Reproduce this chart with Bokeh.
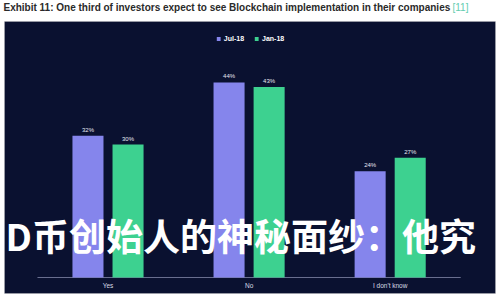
from bokeh.plotting import figure
from bokeh.models import ColumnDataSource, Range1d, Label, BoxAnnotation, Legend, LegendItem
from bokeh.core.properties import value
from bokeh.embed import file_html
from bokeh.resources import INLINE

# ---- data ----
categories = ["Yes", "No", "I don't know"]
jul18 = [32, 44, 24]
jan18 = [30, 43, 27]
series_names = ["Jul-18", "Jan-18"]
title_text = "Exhibit 11: One third of investors expect to see Blockchain implementation in their companies"
title_ref = "[11]"
overlay_text = "D币创始人的神秘面纱：他究"

# ---- style ----
W, H = 500, 300
PANEL = "#0a1130"
C_JUL = "#8585ec"
C_JAN = "#3dd190"
OFF = 0.142
BW = 0.22

xs = [i + 0.5 for i in range(len(categories))]
src = ColumnDataSource(dict(
    cat=categories,
    x=xs,
    x_jul=[x - OFF for x in xs],
    x_jan=[x + OFF for x in xs],
    jul=jul18,
    jan=jan18,
    jul_lbl=[f"{v}%" for v in jul18],
    jan_lbl=[f"{v}%" for v in jan18],
    zero=[0] * len(categories),
))

p = figure(width=W, height=H, output_backend="svg", toolbar_location=None,
           x_range=Range1d(-0.262, 3.282), y_range=Range1d(-5.19, 62.5),
           x_axis_location=None, y_axis_location=None, min_border=0,
           background_fill_color="white", border_fill_color="white",
           outline_line_color=None)
p.grid.visible = False

panel = BoxAnnotation(left=4, right=495, bottom=7, top=279,
                      left_units="screen", right_units="screen",
                      bottom_units="screen", top_units="screen",
                      fill_color=PANEL, fill_alpha=1.0,
                      line_color="#c8c8c8", line_width=1, level="underlay")
p.add_layout(panel)

p.segment(x0=[0], x1=[len(categories)], y0=[0], y1=[0], line_color="#6b7090", line_width=1)

r1 = p.vbar(x="x_jul", top="jul", width=BW, source=src, fill_color=C_JUL, line_color=None)
r2 = p.vbar(x="x_jan", top="jan", width=BW, source=src, fill_color=C_JAN, line_color=None)

for xcol, ycol, lcol in (("x_jul", "jul", "jul_lbl"), ("x_jan", "jan", "jan_lbl")):
    p.text(x=xcol, y=ycol, text=lcol, source=src, text_align="center", text_baseline="bottom",
           y_offset=-3, text_font_size="6px", text_color="#e6e8f0",
           text_font=value("Liberation Sans"))

p.text(x="x", y="zero", text="cat", source=src, text_align="center", text_baseline="top",
       y_offset=5, text_font_size="6.5px", text_color="#d8dbe6",
       text_font=value("Liberation Sans"))

legend = Legend(items=[LegendItem(label=series_names[0], renderers=[r1]),
                       LegendItem(label=series_names[1], renderers=[r2])],
                orientation="horizontal", location="top_center", margin=34, padding=0,
                spacing=10, glyph_width=5, glyph_height=5, label_height=8,
                label_standoff=3, label_text_font_size="7px", label_text_font_style="bold",
                label_text_color="white", label_text_font="Liberation Sans",
                background_fill_alpha=0, border_line_alpha=0)
p.add_layout(legend, "center")

p.add_layout(Label(x=3, y=293, x_units="screen", y_units="screen", text=title_text,
                   text_font="Liberation Sans", text_font_size="10px", text_font_style="bold",
                   text_color="#2a2a2a", text_baseline="middle"))
p.add_layout(Label(x=452, y=293, x_units="screen", y_units="screen", text=title_ref,
                   text_font="Liberation Sans", text_font_size="10px",
                   text_color="#63cdb0", text_baseline="middle"))

p.add_layout(Label(x=5, y=66, x_units="screen", y_units="screen", text=overlay_text,
                   text_font="Noto Sans CJK SC", text_font_size="37px", text_font_style="bold",
                   text_color="white", text_baseline="middle"))

open("out.html", "w").write(file_html(p, INLINE))
